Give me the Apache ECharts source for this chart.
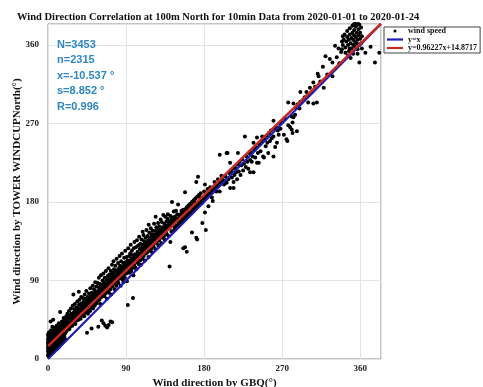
<!DOCTYPE html>
<html>
<head>
<meta charset="utf-8">
<script src="https://cdn.jsdelivr.net/npm/echarts@6.0.0/dist/echarts.min.js"></script>
<style>
  html, body { margin: 0; padding: 0; background: #fff; }
  #chart { width: 483px; height: 387px; }
</style>
</head>
<body>
<div id="chart"></div>
<script>
// GBQ direction vs tower windcup direction (degrees)
const ptsLow = [
  [0,4],[0,9],[0,13],[0,16],[0,19],[0,23],[0,28],[0.5,6],[0.5,11],[0.5,21],[0.5,26],
  [1,3],[1,8],[1,14],[1,18],[1,24],[1,30],[1.5,10],[1.5,16],[1.5,20],[1.5,27],
  [2,5],[2,12],[2,17],[2,22],[2,31],[2.5,8],[2.5,14],[2.5,19],[2.5,25],
  [3,6],[3,11],[3,17],[3,21],[3,28],[3,43],[3.5,13],[3.5,23],[3.5,33],
  [4,9],[4,15],[4,19],[4,26],[4.5,7],[4.5,17],[4.5,22],[4.5,29],
  [5,12],[5,18],[5,24],[5,31],[5,37],[5.5,9],[5.5,15],[5.5,21],[5.5,27],
  [6,13],[6,19],[6,23],[6,30],[6,45],[6.5,11],[6.5,17],[6.5,25],[6.5,33],
  [7,9],[7,15],[7,21],[7,27],[7.5,14],[7.5,19],[7.5,24],[7.5,31],
  [8,12],[8,18],[8,22],[8,28],[8,36],[8.5,16],[8.5,25],[8.5,30],
  [9,11],[9,20],[9,24],[9,33],[9.5,17],[9.5,22],[9.5,28],
  [10,14],[10,21],[10,26],[10,31],[10,38],[10.5,19],[10.5,24],[10.5,29],
  [11,12],[11,23],[11,27],[11,34],[11.5,18],[11.5,25],[11.5,31],
  [12,16],[12,22],[12,28],[12,36],[12.5,20],[12.5,26],[12.5,33],[12.5,41],
  [13,14],[13,24],[13,30],[13.5,22],[13.5,27],[13.5,35],
  [14,18],[14,25],[14,31],[14,54],[14.5,23],[14.5,29],[14.5,38],
  [15,17],[15,27],[15,33],[15.5,21],[15.5,30],[15.5,36],
  [16,25],[16,29],[16,35],[16,43],[16.5,19],[16.5,32],[16.5,39],
  [17,23],[17,28],[17,34],[17.5,27],[17.5,31],[17.5,41],
  [18,21],[18,30],[18,36],[18,47],[18.5,26],[18.5,34],[18.5,39],
  [19,24],[19,32],[19,37],[19,44],[19.5,29],[19.5,35],[19.5,41],
  [20,22],[20,31],[20,38],[20,45]
];
const ptsMid = [
  [20.4,41],[20.6,31],[21.1,49],[21.3,37],[21.8,44],[22.0,33],[22.4,52],[22.7,40],[23.0,35],[23.2,46],
  [23.9,42],[24.2,55],[24.5,34],[24.6,47],[25.1,41],[25.5,50],[25.7,37],[26.3,46],[26.5,58],[26.8,39],
  [27.2,52],[27.4,44],[28.0,38],[28.3,49],[28.5,61],[28.8,45],[29.3,74],[29.5,53],[29.9,41],[30.1,48],
  [30.4,57],[30.7,44],[31.0,63],[31.3,50],[31.6,40],[32.0,54],[32.4,47],[32.7,59],[33.0,44],[33.3,51],
  [33.8,66],[34.1,55],[34.4,49],[34.9,58],[35.2,45],[35.5,77],[35.7,62],[36.0,53],[36.3,68],[36.7,49],
  [37.1,57],[37.4,63],[37.6,46],[38.0,55],[38.3,71],[38.6,59],[39.0,50],[39.2,64],[39.7,56],[40.0,61],
  [40.3,70],[40.6,52],[40.9,58],[41.4,66],[41.7,49],[42.0,61],[42.3,74],[42.6,57],[43.0,64],[43.3,53],
  [43.6,69],[44.0,60],[44.2,78],[44.7,66],[45.0,30],[45.1,56],[45.5,63],[45.8,71],[46.1,52],[46.4,67],
  [46.9,61],[47.3,75],[47.5,58],[47.8,65],[48.2,70],[48.5,55],[48.8,81],[49.1,64],[49.4,72],[49.9,59],
  [50.2,35],[50.3,68],[50.6,76],[50.8,62],[51.3,71],[51.6,84],[51.9,58],[52.2,67],[52.5,75],[52.8,63],
  [53.1,80],[53.4,69],[53.9,61],[54.2,73],[54.5,88],[54.8,66],[55.1,77],[55.6,70],[55.9,83],[56.2,64],
  [56.4,75],[56.9,72],[57.3,87],[57.6,78],[57.8,67],[58.0,37],[58.3,74],[58.6,93],[58.8,82],[59.3,68],
  [59.4,77],[59.9,86],[60.2,75],[60.4,63],[60.7,81],[61.0,96],[61.3,78],[61.8,71],[62.0,44],[62.3,85],
  [62.6,79],[62.9,90],[63.3,73],[63.5,82],[63.9,98],[64.0,41],[64.2,79],[64.6,88],[64.9,72],[65.1,84],
  [65.4,93],[65.9,80],[66.0,38],[66.3,75],[66.6,86],[66.8,101],[67.1,82],[67.6,91],[67.9,69],[68.2,36],
  [68.3,87],[68.5,78],[68.9,95],[69.3,84],[69.7,104],[69.9,90],[70.0,39],[70.3,76],[70.5,88],[70.8,97],
  [71.2,85],[71.4,93],[71.9,80],[72.1,43],[72.4,101],[72.6,89],[72.9,74],[73.1,96],[73.4,87],[73.8,108],
  [74.0,42],[74.2,91],[74.5,83],[74.9,99],[75.2,94],[75.5,112],[75.8,86],[76.1,103],[76.3,91],[76.8,80],
  [77.1,96],[77.4,88],[77.7,107],[78.1,93],[78.4,100],[78.9,84],[79.1,115],[79.3,95],[79.8,89],[80.2,102],
  [80.5,98],[80.8,110],[81.1,87],[81.4,96],[81.9,104],[82.3,92],[82.6,118],[82.8,100],[83.2,107],[83.5,97],
  [83.9,84],[84.1,103],[84.4,112],[84.7,94],[85.0,100],[85.3,121],[85.8,106],[86.1,91],[86.4,99],[86.9,110],
  [87.0,88],[87.2,104],[87.6,97],[87.9,116],[88.3,107],[88.5,93],[88.8,101],[89.1,124],[89.4,111],[89.9,104],
  [90.2,98],[90.5,108],[90.7,117],[91.0,89],[91.3,105],[91.8,113],[92.0,62],[92.3,100],[92.6,127],[92.9,109],
  [93.3,106],[93.6,118],[93.9,99],[94.2,112],[94.5,104],[94.8,121],[95.1,109],[95.4,131],[95.9,101],[96.0,115],
  [96.4,108],[96.7,124],[97.1,104],[97.3,113],[97.8,119],[98.0,70],[98.2,111],[98.5,96],[98.9,127],[99.1,116],
  [99.4,108],[99.7,134],[100.0,113]
];
const ptsUpper = [
  [100.4,120],[100.7,105],[101.2,128],[101.5,114],[101.9,103],[102.1,119],[102.6,136],[102.9,111],
  [103.3,123],[103.6,116],[104.0,130],[104.3,109],[104.7,121],[105.1,140],[105.4,118],[105.8,126],
  [106.3,113],[106.5,132],[106.9,120],[107.2,108],[107.5,125],[107.9,137],[108.1,122],[108.6,129],
  [108.8,115],[109.2,146],[109.5,124],[109.9,131],[110.1,142],[110.4,118],[110.7,127],[111.0,135],
  [111.3,124],[111.8,113],[112.2,130],[112.4,139],[112.9,121],[113.1,127],[113.5,148],[113.8,133],
  [114.2,122],[114.4,130],[114.9,141],[115.3,128],[115.6,136],[115.9,117],[116.1,154],[116.3,131],
  [116.8,145],[117.0,124],[117.4,134],[117.7,139],[118.2,131],[118.5,150],[118.9,126],[119.1,137],
  [119.4,143],[119.8,132],[120.1,122],[120.5,135],[120.8,147],[121.2,140],[121.6,129],[121.9,136],
  [122.3,155],[122.5,133],[122.9,143],[123.2,138],[123.6,126],[123.9,147],[124.1,163],[124.3,136],
  [124.7,142],[125.0,151],[125.4,133],[125.8,140],[126.2,145],[126.5,138],[126.9,156],[127.3,130],
  [127.5,141],[127.9,148],[128.1,136],[128.5,152],[128.8,143],[129.2,146],[129.6,140],[129.9,160],
  [130.3,148],[130.6,133],[130.8,143],[131.2,157],[131.5,146],[131.9,139],[132.3,151],[132.7,144],
  [133.0,165],[133.4,149],[133.8,141],[134.1,155],[134.5,137],[134.8,147],[135.2,163],[135.5,152],
  [135.9,145],[136.3,150],[136.7,158],[137.1,143],[137.5,153],[137.9,161],[138.2,166],[138.6,151],
  [139.0,141],[139.4,156],[139.8,150],[140.2,106],[140.4,158],[140.7,152],[141.1,134],[141.4,164],
  [141.8,155],[142.3,146],[142.6,160],[143.0,180],[143.3,154],[143.8,162],[144.2,147],[144.5,158],
  [145.0,169],[145.4,156],[145.9,151],[146.3,163],[146.7,159],[147.2,149],[147.6,170],[148.1,161],
  [148.6,153],[149.0,166],[149.5,160],[150.0,177],[150.4,155]
];
const ptsRise = [
  [151,154],[151,162],[152,158],[152,165],[153,156],[153,166],[154,160],[154,170],
  [155,158],[155,167],[156,127],[156,162],[156,171],[157,160],[157,168],
  [158,128],[158,164],[158,191],[159,162],[159,172],[160,123],[160,166],[160,174],
  [161,164],[161,170],[162,167],[162,176],[163,166],[163,173],[164,168],[164,178],
  [165,167],[165,175],[166,145],[166,169],[166,180],[167,171],[167,178],
  [168,172],[168,182],[169,173],[169,180],[170,174],[170,184],
  [171,139],[171,203],[171,177],[172,137],[172,175],[172,186],[173,209],[173,178],
  [174,177],[174,188],[175,179],[175,186],[176,181],[176,190],
  [178,156],[178,179],[178,184],[180,183],[180,192],[181,200],[181,168],
  [182,148],[182,186],[184,188],[184,195],[185,175],[185,190],[187,190],[187,197],
  [189,193],[189,185],[190,181],[190,196],[192,195],[192,203],[194,198],[194,192],
  [196,199],[196,206],[198,192],[198,202],[198,234],[200,203],[200,210]
];
const ptsHigh = [
  [201,209],[202,205],[203,200],[204,203],[205,209],[206,202],[206,236],[207,236],
  [208,206],[209,213],[210,196],[210,225],[211,215],[212,208],[213,218],[214,196],
  [214,203],[215,211],[216,219],[217,214],[218,206],[219,236],[219,223],[220,215],
  [221,226],[222,211],[223,222],[224,229],[225,216],[226,224],[227,255],[228,220],
  [229,232],[230,226],[231,218],[232,236],[233,214],[233,228],[234,238],[235,226],
  [236,232],[237,214],[237,248],[238,240],[239,231],[240,243],[241,225],[241,254],
  [242,236],[243,225],[244,246],[245,238],[246,250],[247,255],[248,232],[249,231],
  [250,252],[251,244],[252,256],[253,248],[254,236],[255,259],[256,250],[257,262],
  [258,253],[260,232],[260,255],[260,273],[261,264],[262,243],[263,266],[264,248],
  [265,262],[266,257],[267,270],[268,264],[270,272],[272,257],[273,276],
  [275,252],[276,250],[277,268],[277,294],[279,266],[281,263],[281,278],[282,259],
  [282,271],[283,277],[283,293],[285,280],[286,288],[287,261],[288,292],[290,287],
  [291,295],[291,306],[294,297],[296,300],[298,306],[300,302],[300,294],[302,311],
  [304,306],[306,317],[306,293],[308,312],[310,294],[311,327],[312,324],[314,318],
  [317,335],[318,311],[320,347],[322,326],[325,344],[328,340],[328,324],[331,359],
  [333,346],[335,356],[336,339]
];
const ptsTop = [
  [340,360],[341,366],[342,372],[343,357],[344,364],[345,369],[345,376],[346,360],
  [347,366],[347,353],[348,372],[348,379],[349,362],[350,368],[350,356],[351,374],
  [351,382],[352,360],[352,366],[353,371],[353,377],[354,358],[354,364],[355,369],
  [355,381],[356,362],[356,374],[357,366],[357,355],[358,371],[358,378],[359,360],
  [359,383],[360,367],[360,374],[361,362],[361,380],[362,370],[357,350],[352,350],
  [346,348],[343,351],[338,352],[339,364],[355,384],[358,384],[353,384],[349,345],
  [362,356],[340,370],[339,355],[348,356],[359,340],[366,351],[372,358],[377,340],
  [382,351]
];
const windSpeed = [].concat(ptsLow, ptsMid, ptsUpper, ptsRise, ptsHigh, ptsTop);

// reference lines: y = x and the fit y = 0.96227x + 14.8717
const lineX = [0, 384];
const identityY = [0, 384];
const fitY = [14.8717, 384.38];

const statLines = ['N=3453', 'n=2315', 'x=-10.537 °', 's=8.852 °', 'R=0.996'];
const ticks = [0, 90, 180, 270, 360];

const serif = '"Liberation Serif", "Times New Roman", serif';
const lineIcon = 'path://M0,0L16,0L16,2.2L0,2.2Z';
const chart = echarts.init(document.getElementById('chart'), null, { renderer: 'canvas' });

chart.setOption({
  animation: false,
  backgroundColor: '#fff',
  title: {
    text: 'Wind Direction Correlation at 100m North for 10min Data from 2020-01-01 to 2020-01-24',
    left: 12,
    top: 7,
    textStyle: { fontFamily: serif, fontWeight: 'bold', fontSize: 10.5, color: '#111' }
  },
  legend: {
    left: 384,
    top: 27,
    orient: 'vertical',
    itemGap: 0.5,
    itemWidth: 16,
    itemHeight: 3,
    padding: [0, 3, 1, 3],
    borderColor: '#444',
    borderWidth: 1,
    borderRadius: 0,
    backgroundColor: '#fff',
    textStyle: { fontFamily: serif, fontWeight: 'bold', fontSize: 8, lineHeight: 8, color: '#111' },
    data: [
      { name: 'wind speed', icon: 'circle', itemStyle: { color: '#000' } },
      { name: 'y=x', icon: lineIcon, itemStyle: { color: '#1c1cb4' } },
      { name: 'y=0.96227x+14.8717', icon: lineIcon, itemStyle: { color: '#c62a22' } }
    ]
  },
  grid: {
    left: 48,
    right: 102,
    top: 24,
    bottom: 28,
    show: true,
    borderColor: '#8a8a8a',
    borderWidth: 1,
    containLabel: false,
    outerBoundsMode: 'none'
  },
  xAxis: {
    type: 'value',
    min: 0,
    max: 384,
    interval: 90,
    name: 'Wind direction by GBQ(°)',
    nameLocation: 'middle',
    nameGap: 17,
    nameTextStyle: { fontFamily: serif, fontWeight: 'bold', fontSize: 11, color: '#111' },
    axisLine: { show: false },
    axisTick: { show: false },
    axisLabel: {
      fontFamily: serif, fontWeight: 'bold', fontSize: 9, color: '#222', margin: 5,
      customValues: ticks
    },
    splitLine: { show: true, lineStyle: { color: '#e3e3e3', width: 1 } }
  },
  yAxis: {
    type: 'value',
    min: 0,
    max: 384,
    interval: 90,
    name: 'Wind direction by TOWER WINDCUPNorth(°)',
    nameLocation: 'middle',
    nameGap: 25,
    nameMoveOverlap: false,
    nameTextStyle: { fontFamily: serif, fontWeight: 'bold', fontSize: 11, color: '#111' },
    axisLine: { show: false },
    axisTick: { show: false },
    axisLabel: {
      fontFamily: serif, fontWeight: 'bold', fontSize: 9, color: '#222', margin: 9,
      customValues: ticks
    },
    splitLine: { show: true, lineStyle: { color: '#e3e3e3', width: 1 } }
  },
  graphic: [
    {
      type: 'text',
      left: 57,
      top: 37,
      z: 100,
      style: {
        text: statLines.join('\n'),
        fill: '#2f86c0',
        font: 'bold 11px "Liberation Sans", Arial, sans-serif',
        lineHeight: 15.5
      }
    }
  ],
  series: [
    {
      name: 'wind speed',
      type: 'scatter',
      symbol: 'circle',
      symbolSize: 4,
      itemStyle: { color: '#000', opacity: 1 },
      data: windSpeed,
      z: 2
    },
    {
      name: 'y=x',
      type: 'line',
      showSymbol: false,
      symbol: 'none',
      data: lineX.map((x, i) => [x, identityY[i]]),
      lineStyle: { color: '#1c1cb4', width: 2.2 },
      itemStyle: { color: '#1c1cb4' },
      z: 3
    },
    {
      name: 'y=0.96227x+14.8717',
      type: 'line',
      showSymbol: false,
      symbol: 'none',
      data: lineX.map((x, i) => [x, fitY[i]]),
      lineStyle: { color: '#c62a22', width: 2.5 },
      itemStyle: { color: '#c62a22' },
      z: 4
    }
  ]
});
</script>
</body>
</html>
